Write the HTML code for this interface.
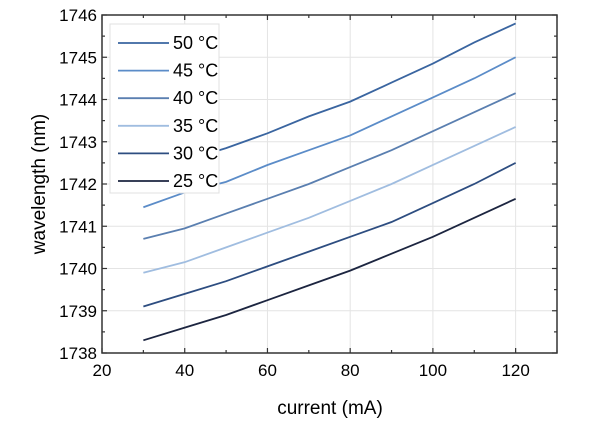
<!DOCTYPE html>
<html><head><meta charset="utf-8"><style>
body{margin:0;background:#fff;}
svg text{font-family:"Liberation Sans",sans-serif;fill:#000;}
</style></head><body>
<svg id="s" width="600" height="425" xmlns="http://www.w3.org/2000/svg"></svg>
<script>
const s=document.getElementById('s');
const X0=102,X1=557,Y0=353,Y1=15;
const px=x=>X0+(x-20)*(X1-X0)/110, py=y=>Y0-(y-1738)*(Y0-Y1)/8;
let h='';
for(let x=40;x<=120;x+=20)h+=`<line x1="${px(x)}" x2="${px(x)}" y1="${Y1}" y2="${Y0}" stroke="#e4e4e4"/>`;
for(let y=1739;y<=1745;y++)h+=`<line x1="${X0}" x2="${X1}" y1="${py(y)}" y2="${py(y)}" stroke="#e4e4e4"/>`;
for(let x=20;x<=130;x+=10){let L=x%20?3:5;h+=`<line x1="${px(x)}" x2="${px(x)}" y1="${Y0}" y2="${Y0-L}" stroke="#333" stroke-width="1.2"/><line x1="${px(x)}" x2="${px(x)}" y1="${Y1}" y2="${Y1+L}" stroke="#333" stroke-width="1.2"/>`;
 if(x%20==0)h+=`<text x="${px(x)}" y="${Y0+23}" font-size="17" text-anchor="middle">${x}</text>`;}
for(let y=1738;y<=1746;y+=0.5){let L=y%1?3:5;h+=`<line x1="${X0}" x2="${X0+L}" y1="${py(y)}" y2="${py(y)}" stroke="#333" stroke-width="1.2"/><line x1="${X1}" x2="${X1-L}" y1="${py(y)}" y2="${py(y)}" stroke="#333" stroke-width="1.2"/>`;
 if(y%1==0)h+=`<text x="${X0-5}" y="${py(y)+6}" font-size="17" text-anchor="end">${y}</text>`;}
h+=`<rect x="${X0}" y="${Y1}" width="${X1-X0}" height="${Y0-Y1}" fill="none" stroke="#333" stroke-width="1.5"/>`;
const D=[
["50 °C","#3a65a0",[1742.3,1742.55,1742.85,1743.2,1743.6,1743.95,1744.4,1744.85,1745.35,1745.8]],
["45 °C","#5b8cc8",[1741.45,1741.8,1742.05,1742.45,1742.8,1743.15,1743.6,1744.05,1744.5,1745.0]],
["40 °C","#5a7fb0",[1740.7,1740.95,1741.3,1741.65,1742.0,1742.4,1742.8,1743.25,1743.7,1744.15]],
["35 °C","#a0bde0",[1739.9,1740.15,1740.5,1740.85,1741.2,1741.6,1742.0,1742.45,1742.9,1743.35]],
["30 °C","#2d4d80",[1739.1,1739.4,1739.7,1740.05,1740.4,1740.75,1741.1,1741.55,1742.0,1742.5]],
["25 °C","#1c2540",[1738.3,1738.6,1738.9,1739.25,1739.6,1739.95,1740.35,1740.75,1741.2,1741.65]]];
D.forEach(d=>{h+=`<polyline fill="none" stroke="${d[1]}" stroke-width="1.8" points="${d[2].map((v,i)=>px(30+i*10)+','+py(v)).join(' ')}"/>`;});
h+=`<rect x="110" y="24" width="109" height="169" fill="#fff" stroke="#e0e0e0"/>`;
D.forEach((d,i)=>{let y=43+i*27.6;h+=`<line x1="118" x2="169" y1="${y}" y2="${y}" stroke="${d[1]}" stroke-width="1.8"/><text x="173" y="${y+6}" font-size="18">${d[0]}</text>`;});
h+=`<text x="330" y="414" font-size="19" text-anchor="middle">current (mA)</text>`;
h+=`<text transform="translate(45,184) rotate(-90)" font-size="19" text-anchor="middle">wavelength (nm)</text>`;
s.innerHTML=h;
</script>
</body></html>
